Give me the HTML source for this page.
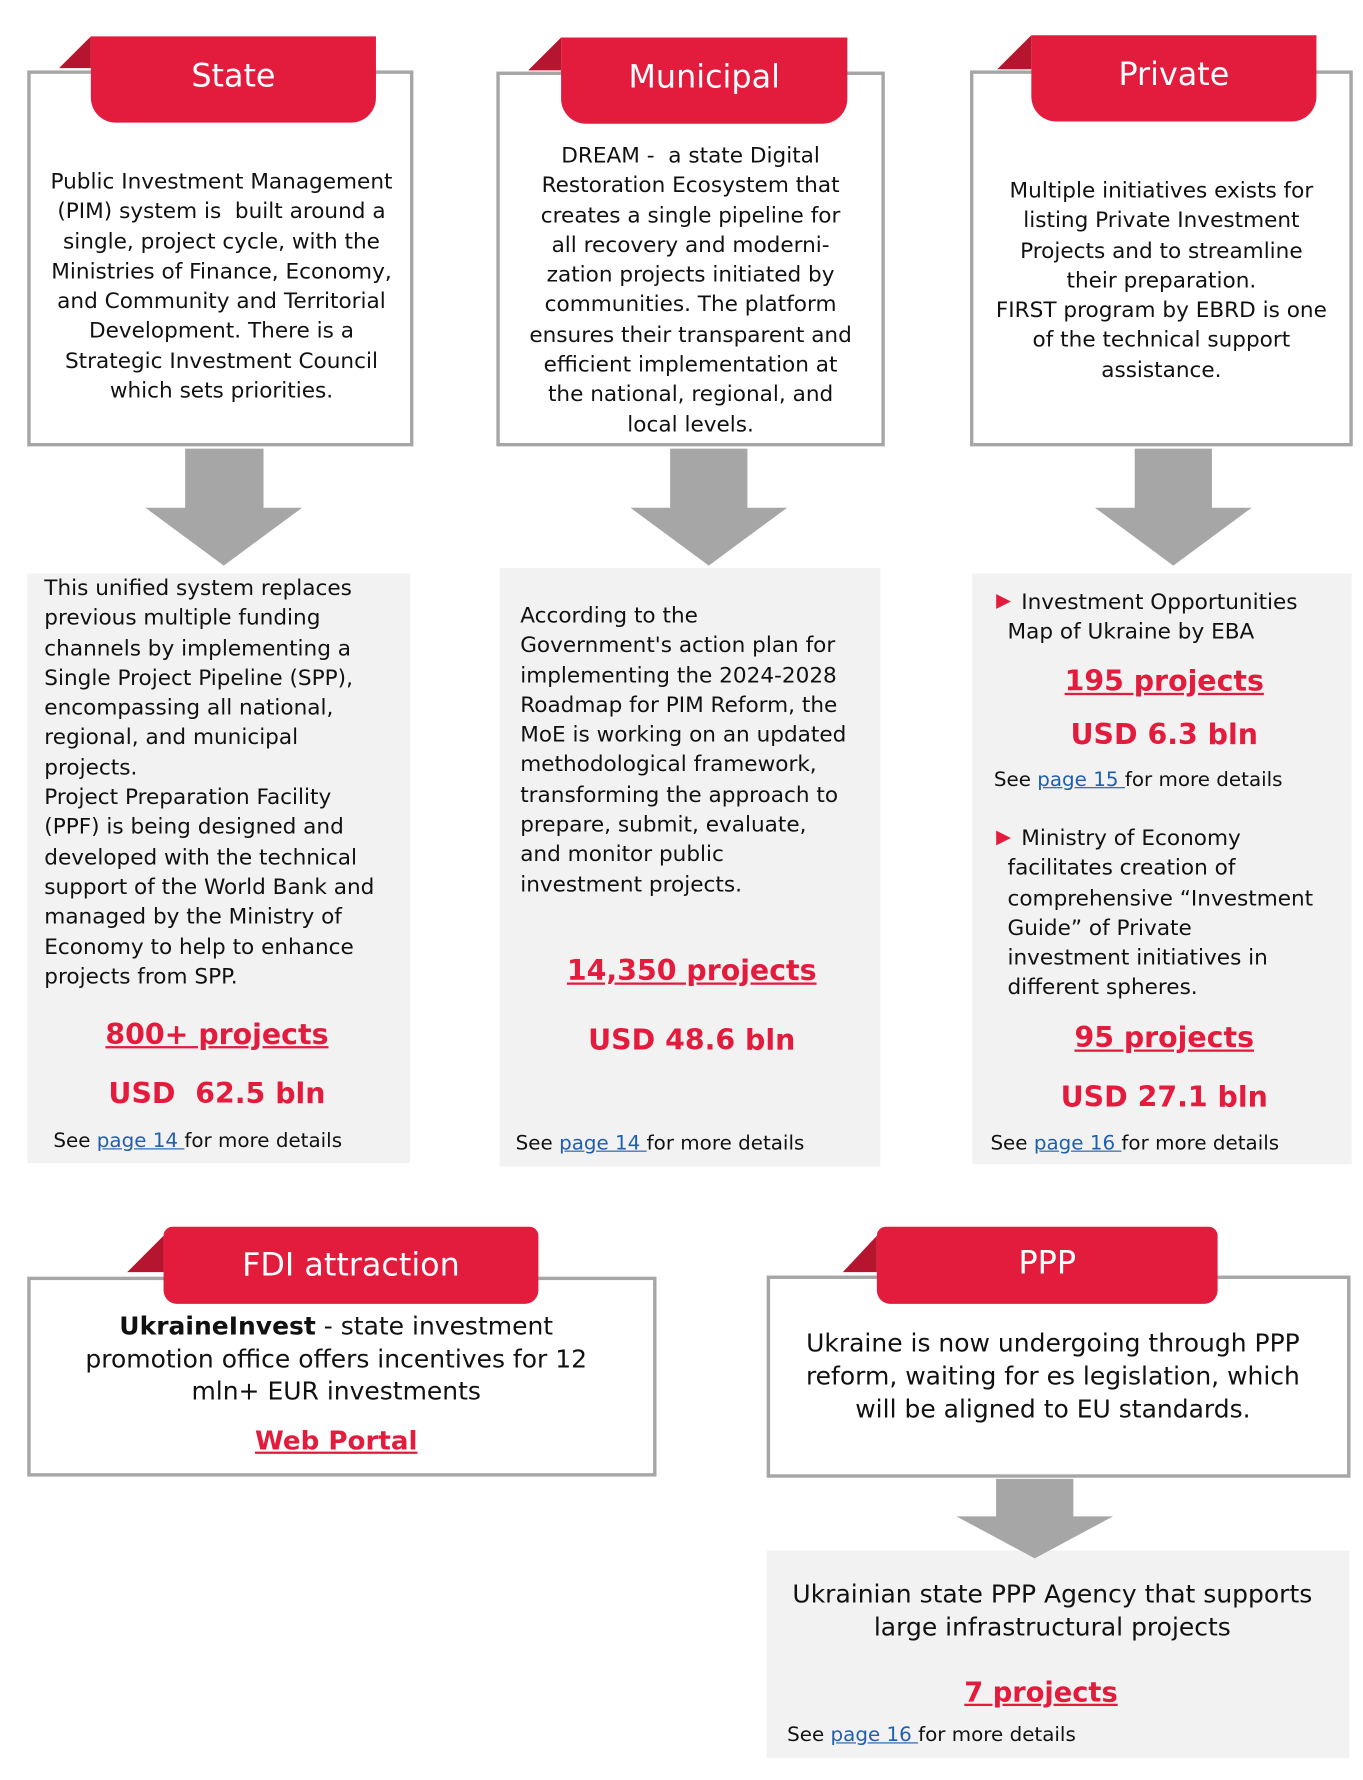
<!DOCTYPE html>
<html><head><meta charset="utf-8">
<style>
html,body{margin:0;padding:0;background:#fff;width:1363px;height:1780px;overflow:hidden}
#s{position:absolute;left:0;top:0;width:1200px;height:1567px;transform:scale(1.13583);transform-origin:0 0;font-family:"DejaVu Sans","Liberation Sans",sans-serif;color:#111}
.a{position:absolute}
.box{position:absolute;border:3px solid #a6a6a6;box-sizing:border-box;background:#fff}
.tab{position:absolute;background:#e31b3c;color:#fff;border-radius:0 0 22px 22px;text-align:center;font-size:28px;box-sizing:border-box}
.fold{position:absolute;width:0;height:0}
.txt{position:absolute;font-size:19px;line-height:26.3px;letter-spacing:0}
.c{text-align:center}
.panel{position:absolute;background:#f2f2f2}
.big{position:absolute;color:#e31b3c;font-weight:bold;font-size:25px;text-align:center;letter-spacing:0}
.u{text-decoration:underline}
.see{position:absolute;font-size:17.5px}
.see a{color:#1f5fad;text-decoration:underline}
.shaft{position:absolute;background:#a6a6a6}
.head{position:absolute;width:0;height:0;border-top:51px solid #a6a6a6}
.tri{color:#e31b3c;font-size:17px;position:absolute}
</style></head><body>
<div id="s">

<!-- State -->
<div class="box" style="left:24px;top:62px;width:340px;height:331px"></div>
<div class="fold" style="left:52px;top:32px;border-right:28px solid #b5152e;border-top:28px solid transparent"></div>
<div class="tab" style="left:80px;top:32px;width:251px;height:76px;padding-top:18px">State</div>
<div class="txt c" style="left:26px;top:147px;width:338px">Public Investment Management<br>(PIM) system is &nbsp;built around a<br>single, project cycle, with the<br>Ministries of Finance, Economy,<br>and Community and Territorial<br>Development. There is a<br>Strategic Investment Council<br>which sets priorities.</div>
<div class="shaft" style="left:163px;top:395px;width:69px;height:53px"></div>
<div class="head" style="left:128px;top:447px;border-left:69px solid transparent;border-right:69px solid transparent"></div>
<div class="panel" style="left:24px;top:505px;width:337px;height:519px"></div>
<div class="txt" style="left:39px;top:505px;width:322px">This unified system replaces<br>previous multiple funding<br>channels by implementing a<br>Single Project Pipeline (SPP),<br>encompassing all national,<br>regional, and municipal<br>projects.<br>Project Preparation Facility<br>(PPF) is being designed and<br>developed with the technical<br>support of the World Bank and<br>managed by the Ministry of<br>Economy to help to enhance<br>projects from SPP.</div>
<div class="big u" style="left:24px;top:896px;width:334px">800+ projects</div>
<div class="big" style="left:24px;top:948px;width:334px">USD &nbsp;62.5 bln</div>
<div class="see" style="left:47px;top:995px">See <a>page 14 </a>for more details</div>

<!-- Municipal -->
<div class="box" style="left:437px;top:63px;width:342px;height:330px"></div>
<div class="fold" style="left:465px;top:33px;border-right:29px solid #b5152e;border-top:29px solid transparent"></div>
<div class="tab" style="left:494px;top:33px;width:252px;height:76px;padding-top:18px">Municipal</div>
<div class="txt c" style="left:438px;top:124px;width:340px">DREAM - &nbsp;a state Digital<br>Restoration Ecosystem that<br>creates a single pipeline for<br>all recovery and moderni-<br>zation projects initiated by<br>communities. The platform<br>ensures their transparent and<br>efficient implementation at<br>the national, regional, and<br>local levels.</div>
<div class="shaft" style="left:590px;top:395px;width:68px;height:53px"></div>
<div class="head" style="left:555px;top:447px;border-left:69px solid transparent;border-right:69px solid transparent"></div>
<div class="panel" style="left:440px;top:500px;width:335px;height:527px"></div>
<div class="txt" style="left:458px;top:529px;width:317px">According to the<br>Government's action plan for<br>implementing the 2024-2028<br>Roadmap for PIM Reform, the<br>MoE is working on an updated<br>methodological framework,<br>transforming the approach to<br>prepare, submit, evaluate,<br>and monitor public<br>investment projects.</div>
<div class="big u" style="left:440px;top:840px;width:338px">14,350 projects</div>
<div class="big" style="left:440px;top:901px;width:338px">USD 48.6 bln</div>
<div class="see" style="left:454px;top:997px">See <a>page 14 </a>for more details</div>

<!-- Private -->
<div class="box" style="left:854px;top:62px;width:337px;height:331px"></div>
<div class="fold" style="left:878px;top:31px;border-right:30px solid #b5152e;border-top:30px solid transparent"></div>
<div class="tab" style="left:908px;top:31px;width:251px;height:76px;padding-top:18px">Private</div>
<div class="txt c" style="left:854px;top:155px;width:337px">Multiple initiatives exists for<br>listing Private Investment<br>Projects and to streamline<br>their preparation.<br>FIRST program by EBRD is one<br>of the technical support<br>assistance.</div>
<div class="shaft" style="left:999px;top:395px;width:68px;height:53px"></div>
<div class="head" style="left:964px;top:447px;border-left:69px solid transparent;border-right:69px solid transparent"></div>
<div class="panel" style="left:856px;top:505px;width:334px;height:520px"></div>
<div class="tri" style="left:877px;top:519px">▶</div>
<div class="txt" style="left:887px;top:517px;width:302px">&nbsp;&nbsp;Investment Opportunities<br>Map of Ukraine by EBA</div>
<div class="big u" style="left:856px;top:585px;width:338px">195 projects</div>
<div class="big" style="left:856px;top:632px;width:338px">USD 6.3 bln</div>
<div class="see" style="left:875px;top:677px">See <a>page 15 </a>for more details</div>
<div class="tri" style="left:877px;top:727px">▶</div>
<div class="txt" style="left:887px;top:725px;width:302px">&nbsp;&nbsp;Ministry of Economy<br>facilitates creation of<br>comprehensive “Investment<br>Guide” of Private<br>investment initiatives in<br>different spheres.</div>
<div class="big u" style="left:856px;top:899px;width:338px">95 projects</div>
<div class="big" style="left:856px;top:951px;width:338px">USD 27.1 bln</div>
<div class="see" style="left:872px;top:997px">See <a>page 16 </a>for more details</div>

<!-- FDI -->
<div class="box" style="left:24px;top:1124px;width:554px;height:176px"></div>
<div class="fold" style="left:112px;top:1088px;border-right:32px solid #b5152e;border-top:32px solid transparent"></div>
<div class="tab" style="left:144px;top:1080px;width:330px;height:68px;padding-top:17px;border-radius:8px 8px 12px 12px">FDI attraction</div>
<div class="txt c" style="left:16px;top:1155px;width:560px;font-size:22px;line-height:28.7px"><b>UkraineInvest</b> - state investment<br>promotion office offers incentives for 12<br>mln+ EUR investments</div>
<div class="big u" style="left:26px;top:1256px;width:540px;font-size:23px">Web Portal</div>

<!-- PPP -->
<div class="box" style="left:675px;top:1123px;width:514px;height:178px"></div>
<div class="fold" style="left:742px;top:1088px;border-right:30px solid #b5152e;border-top:32px solid transparent"></div>
<div class="tab" style="left:772px;top:1080px;width:300px;height:68px;padding-top:15px;border-radius:8px 8px 12px 12px">PPP</div>
<div class="txt c" style="left:667px;top:1169px;width:520px;font-size:22px;line-height:29px">Ukraine is now undergoing through PPP<br>reform, waiting for es legislation, which<br>will be aligned to EU standards.</div>
<div class="panel" style="left:675px;top:1365px;width:513px;height:183px"></div>
<div class="shaft" style="left:877px;top:1302px;width:68px;height:34px"></div>
<div class="head" style="left:842px;top:1335px;border-left:69px solid transparent;border-right:69px solid transparent;border-top-width:37px"></div>
<div class="txt c" style="left:665px;top:1390px;width:523px;font-size:22px;line-height:29px">Ukrainian state PPP Agency that supports<br>large infrastructural projects</div>
<div class="big u" style="left:660px;top:1476px;width:513px;font-size:24px">7 projects</div>
<div class="see" style="left:693px;top:1518px">See <a>page 16 </a>for more details</div>

</div>
</body></html>
